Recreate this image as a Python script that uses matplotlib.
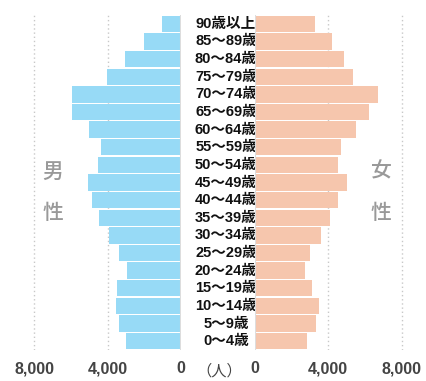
import matplotlib
matplotlib.use("Agg")
import matplotlib.pyplot as plt

plt.rcParams['font.family'] = ['Liberation Sans', 'Noto Sans CJK JP', 'DejaVu Sans']

# age groups, top to bottom
ages = ['90歳以上', '85～89歳', '80～84歳', '75～79歳', '70～74歳', '65～69歳',
        '60～64歳', '55～59歳', '50～54歳', '45～49歳', '40～44歳', '35～39歳',
        '30～34歳', '25～29歳', '20～24歳', '15～19歳', '10～14歳', '5～9歳', '0～4歳']
male = [1020, 2000, 3030, 4010, 5910, 5910, 5010, 4370, 4500, 5080,
        4840, 4480, 3920, 3370, 2920, 3480, 3560, 3390, 2990]
female = [3280, 4190, 4860, 5330, 6710, 6220, 5500, 4700, 4540, 5010,
          4520, 4120, 3610, 3010, 2760, 3120, 3480, 3320, 2830]
ticks = [0, 4000, 8000]
tick_labels = ['0', '4,000', '8,000']

W, H = 427, 381
fig = plt.figure(figsize=(W / 100, H / 100), dpi=100)

y_top, y_bot = 15, 350
px_per_unit = 73.5 / 4000

def frac_box(x0, x1):
    return [x0 / W, 1 - y_bot / H, (x1 - x0) / W, (y_bot - y_top) / H]

ax_m = fig.add_axes(frac_box(20, 181))
ax_f = fig.add_axes(frac_box(254.7, 415))

ypos = list(range(len(ages)))[::-1]

ax_m.barh(ypos, male, height=0.93, color='#97daf6', zorder=2)
ax_f.barh(ypos, female, height=0.93, color='#f6c6ad', zorder=2)

ax_m.set_xlim(161 / px_per_unit, 0)
ax_f.set_xlim(0, 160.3 / px_per_unit)

for ax in (ax_m, ax_f):
    ax.set_ylim(-0.5, len(ages) - 0.5)
    for s in ax.spines.values():
        s.set_visible(False)
    ax.set_yticks([])
    ax.set_xticks(ticks)
    ax.set_xticklabels(tick_labels, fontsize=11.5, fontweight='bold', color='#444444')
    ax.tick_params(axis='x', length=0, pad=8)
    for t in ticks[1:]:
        ax.axvline(t, color='#c8c8c8', lw=1, ls=(0, (1, 2)), zorder=1)
    ax.axvline(0, color='#dddddd', lw=1.5, zorder=3)

# age labels in the middle
row_h = (y_bot - y_top) / len(ages)
for i, lab in enumerate(ages):
    ax_m.text(226 / W, 1 - (y_top + (i + 0.5) * row_h) / H, lab,
              transform=fig.transFigure, ha='center', va='center',
              fontsize=10.5, fontweight='bold', color='#111111', zorder=5)

fig.text(219 / W, 1 - 371 / H, '（人）', ha='center', va='center', fontsize=11, color='#444444')

for x, chars in ((53, '男性'), (381, '女性')):
    fig.text(x / W, 1 - 172 / H, chars[0], ha='center', va='center', fontsize=15,
             fontweight='medium', color='#999999')
    fig.text(x / W, 1 - 213 / H, chars[1], ha='center', va='center', fontsize=15,
             fontweight='medium', color='#999999')

fig.savefig('out.png', dpi=100)
